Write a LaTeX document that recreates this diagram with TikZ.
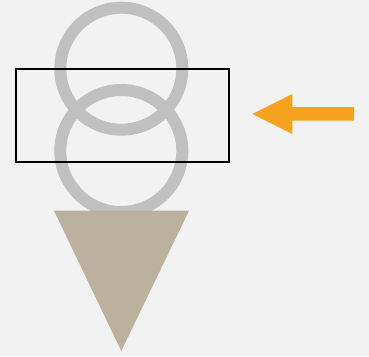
\documentclass[tikz,border=0pt]{standalone}
\usetikzlibrary{arrows.meta}
\definecolor{bg}{HTML}{F2F2F2}
\definecolor{ringgray}{HTML}{C0C0C0}
\definecolor{cone}{HTML}{BBB19E}
\definecolor{orangearrow}{HTML}{F5A31F}
\tikzset{
  ring/.style={draw=ringgray, line width=12pt},
  frame/.style={draw=black, line width=2pt},
  conefill/.style={fill=cone},
  arrowfill/.style={fill=orangearrow}
}
\begin{document}
\begin{tikzpicture}[x=1pt,y=-1pt]
\fill[bg] (0,0) rectangle (369,356);
\useasboundingbox (0,0) rectangle (369,356);
\coordinate (ctop) at (121.3,68.7);
\coordinate (cbot) at (121.3,151);
\draw[ring] (ctop) circle[radius=61];
\draw[ring] (cbot) circle[radius=61];
\fill[conefill] (54,210.7) -- (189,210.7) -- (121.3,351) -- cycle;
\draw[frame] (16,69) rectangle (228.5,162);
\fill[arrowfill] (252.3,114) -- (292.3,94) -- (292.3,107) -- (354,107) -- (354,120.7) -- (292.3,120.7) -- (292.3,134) -- cycle;
\end{tikzpicture}
\end{document}
